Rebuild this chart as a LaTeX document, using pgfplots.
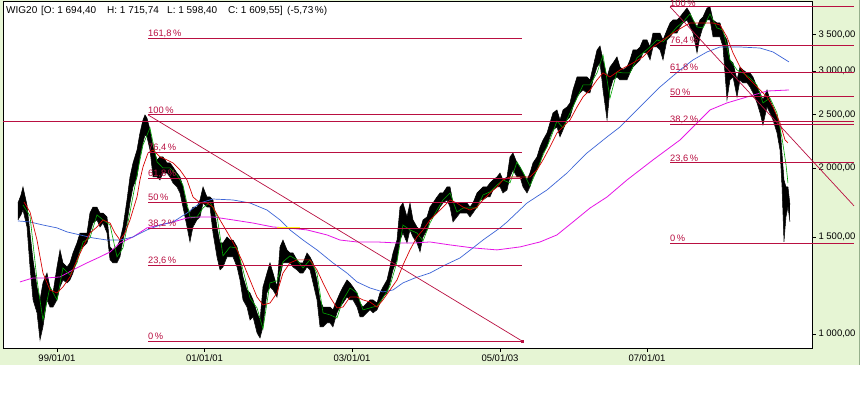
\documentclass[border=0pt]{standalone}
\usepackage{pgfplots}
\pgfplotsset{compat=1.18}
\usepackage{pgfplotstable}
\usepackage{fontspec}
\setmainfont{Liberation Sans}
\definecolor{bggreen}{RGB}{230,245,212}
\definecolor{edgegreen}{RGB}{150,175,140}
\definecolor{fibc}{RGB}{185,15,65}
\definecolor{mared}{RGB}{215,0,0}
\definecolor{mablue}{RGB}{60,100,215}
\definecolor{mamag}{RGB}{230,20,230}
\definecolor{magreen}{RGB}{0,165,0}

\pgfplotstableread{
t hi lo
1998.471 1729 1611
1998.512 1788 1645
1998.539 1849 1679
1998.593 1715 1564
1998.634 1525 1323
1998.675 1363 1153
1998.729 1217 1092
1998.770 1153 975
1998.810 1238 1030
1998.864 1290 1153
1998.905 1217 1119
1998.946 1187 1119
1999.000 1323 1153
1999.041 1421 1217
1999.081 1346 1253
1999.136 1323 1238
1999.176 1346 1253
1999.217 1403 1290
1999.271 1463 1363
1999.312 1525 1421
1999.353 1525 1439
1999.407 1525 1463
1999.447 1658 1525
1999.488 1700 1590
1999.542 1700 1611
1999.583 1658 1564
1999.624 1658 1590
1999.678 1631 1525
1999.719 1439 1363
1999.759 1421 1346
1999.814 1439 1346
1999.854 1481 1380
1999.895 1564 1481
1999.949 1751 1590
1999.990 1928 1729
2000.031 2044 1849
2000.085 2158 1928
2000.125 2317 2096
2000.166 2446 2222
2000.193 2498 2298
2000.220 2467 2279
2000.261 2346 2158
2000.302 2185 1928
2000.356 2070 1928
2000.397 2096 1904
2000.437 2096 1960
2000.492 2044 1960
2000.532 2044 1928
2000.573 2010 1880
2000.627 1960 1849
2000.668 1928 1803
2000.708 1849 1700
2000.763 1700 1564
2000.803 1658 1469
2000.844 1700 1564
2000.898 1700 1611
2000.939 1751 1631
2000.980 1849 1729
2001.034 1773 1700
2001.075 1773 1700
2001.115 1751 1525
2001.169 1564 1380
2001.210 1463 1307
2001.251 1463 1323
2001.305 1500 1380
2001.346 1481 1380
2001.386 1481 1380
2001.441 1439 1323
2001.481 1363 1253
2001.522 1269 1153
2001.576 1202 1119
2001.617 1187 1060
2001.658 1153 1074
2001.712 1092 1004
2001.753 1060 983
2001.793 1217 1030
2001.847 1290 1187
2001.888 1346 1217
2001.929 1290 1202
2001.983 1217 1167
2002.024 1439 1269
2002.064 1481 1346
2002.119 1421 1346
2002.159 1403 1346
2002.200 1403 1323
2002.254 1363 1307
2002.295 1346 1290
2002.336 1346 1290
2002.390 1403 1323
2002.430 1380 1307
2002.471 1346 1238
2002.525 1253 1153
2002.566 1153 1030
2002.607 1119 1030
2002.661 1119 1047
2002.702 1119 1047
2002.742 1106 1030
2002.796 1153 1092
2002.837 1187 1119
2002.878 1217 1138
2002.932 1253 1167
2002.973 1238 1153
2003.013 1217 1153
2003.068 1187 1119
2003.108 1138 1074
2003.149 1119 1074
2003.203 1138 1092
2003.244 1153 1106
2003.285 1153 1092
2003.339 1138 1106
2003.379 1187 1138
2003.420 1217 1167
2003.474 1253 1187
2003.515 1323 1238
2003.556 1403 1307
2003.610 1481 1363
2003.651 1700 1481
2003.691 1729 1525
2003.746 1631 1463
2003.786 1729 1545
2003.827 1611 1500
2003.881 1564 1463
2003.922 1545 1409
2003.963 1611 1500
2004.017 1631 1545
2004.057 1700 1611
2004.098 1729 1631
2004.152 1773 1658
2004.193 1803 1700
2004.234 1803 1729
2004.288 1849 1751
2004.329 1849 1700
2004.369 1729 1597
2004.423 1729 1631
2004.464 1729 1658
2004.505 1729 1658
2004.559 1729 1658
2004.600 1700 1631
2004.640 1729 1658
2004.695 1803 1700
2004.735 1826 1751
2004.776 1849 1751
2004.830 1849 1773
2004.871 1880 1773
2004.912 1904 1826
2004.966 1928 1849
2005.007 1960 1849
2005.047 1904 1803
2005.102 1928 1826
2005.142 2096 1928
2005.183 2131 1985
2005.237 2044 1928
2005.278 2010 1928
2005.318 1960 1849
2005.373 1904 1803
2005.413 1960 1849
2005.454 2044 1928
2005.508 2096 1985
2005.549 2185 2044
2005.590 2250 2131
2005.644 2317 2185
2005.684 2416 2279
2005.725 2519 2346
2005.779 2551 2376
2005.820 2446 2279
2005.861 2551 2346
2005.915 2583 2446
2005.956 2627 2477
2005.996 2773 2583
2006.051 2928 2693
2006.091 2928 2739
2006.132 2928 2773
2006.186 2928 2739
2006.227 2892 2739
2006.268 3053 2892
2006.322 3278 3053
2006.363 3333 3105
2006.403 3144 2773
2006.458 2928 2446
2006.498 3053 2773
2006.539 3105 2892
2006.593 3184 2928
2006.634 3053 2892
2006.674 3015 2892
2006.729 3053 2892
2006.769 3144 2978
2006.810 3278 3053
2006.864 3278 3105
2006.905 3319 3144
2006.945 3418 3237
2007.000 3418 3237
2007.041 3319 3144
2007.081 3519 3319
2007.135 3519 3319
2007.176 3519 3278
2007.217 3418 3144
2007.271 3564 3418
2007.312 3670 3461
2007.352 3716 3519
2007.407 3716 3519
2007.447 3763 3609
2007.488 3826 3670
2007.542 3907 3716
2007.583 3826 3609
2007.623 3716 3519
2007.678 3609 3237
2007.718 3716 3461
2007.759 3763 3609
2007.813 3907 3716
2007.854 3924 3716
2007.895 3716 3461
2007.949 3670 3461
2007.989 3670 3461
2008.030 3519 3319
2008.084 3418 2660
2008.125 3144 2892
2008.166 3105 2928
2008.220 2892 2693
2008.261 3053 2892
2008.301 3015 2856
2008.355 2978 2856
2008.396 2978 2808
2008.437 2928 2739
2008.491 2808 2627
2008.532 2739 2519
2008.572 2660 2396
2008.627 2773 2583
2008.667 2660 2519
2008.708 2583 2446
2008.762 2477 2317
2008.803 2376 2158
2008.830 2131 1849
2008.857 1904 1470
2008.884 1849 1631
2008.911 1849 1700
2008.938 1716 1598
}\candles

\pgfplotstableread{
t v
1998.553 1736
1998.634 1665
1998.729 1481
1998.810 1290
1998.905 1202
1999.000 1187
1999.081 1217
1999.176 1269
1999.271 1363
1999.353 1439
1999.447 1525
1999.542 1564
1999.624 1611
1999.719 1590
1999.786 1525
1999.854 1481
1999.922 1525
1999.990 1611
2000.085 1773
2000.125 1904
2000.166 2010
2000.234 2131
2000.302 2158
2000.397 2096
2000.492 2070
2000.573 2044
2000.668 1985
2000.763 1904
2000.844 1773
2000.939 1729
2001.034 1729
2001.115 1700
2001.210 1611
2001.346 1500
2001.441 1421
2001.522 1346
2001.617 1253
2001.712 1167
2001.793 1129
2001.888 1138
2001.983 1187
2002.064 1290
2002.159 1346
2002.254 1363
2002.336 1363
2002.430 1363
2002.525 1307
2002.607 1238
2002.702 1167
2002.796 1115
2002.878 1119
2002.973 1167
2003.068 1167
2003.149 1153
2003.244 1143
2003.339 1119
2003.420 1153
2003.515 1202
2003.610 1253
2003.691 1334
2003.786 1421
2003.881 1500
2003.963 1545
2004.057 1611
2004.152 1658
2004.234 1700
2004.329 1751
2004.423 1729
2004.505 1700
2004.600 1679
2004.695 1700
2004.776 1751
2004.871 1803
2004.966 1849
2005.047 1904
2005.142 1928
2005.237 1928
2005.318 1928
2005.413 1928
2005.508 1985
2005.590 2070
2005.684 2185
2005.779 2317
2005.861 2376
2005.956 2446
2006.051 2583
2006.132 2693
2006.227 2773
2006.322 2892
2006.403 2978
2006.498 2928
2006.634 3015
2006.810 3105
2006.945 3184
2007.081 3319
2007.217 3418
2007.352 3519
2007.488 3609
2007.583 3670
2007.678 3670
2007.759 3670
2007.895 3670
2007.989 3639
2008.084 3461
2008.166 3237
2008.261 3053
2008.355 2928
2008.437 2856
2008.532 2773
2008.627 2693
2008.708 2583
2008.803 2416
2008.871 2250
2008.911 2222
}\redma

\pgfplotstableread{
t v
1998.471 1604
1998.634 1597
1998.810 1577
1999.000 1558
1999.136 1532
1999.312 1513
1999.488 1494
1999.678 1481
1999.854 1481
2000.031 1500
2000.220 1545
2000.397 1577
2000.573 1597
2000.763 1658
2000.939 1729
2001.115 1758
2001.386 1751
2001.617 1729
2001.847 1679
2002.024 1611
2002.159 1545
2002.336 1481
2002.525 1421
2002.742 1346
2002.932 1290
2003.068 1243
2003.244 1212
2003.420 1192
2003.556 1202
2003.691 1238
2003.854 1264
2004.057 1290
2004.261 1334
2004.464 1374
2004.640 1433
2004.776 1481
2005.007 1558
2005.102 1597
2005.373 1729
2005.644 1826
2005.915 1960
2006.186 2131
2006.458 2279
2006.634 2376
2006.905 2583
2007.176 2808
2007.447 3015
2007.623 3144
2007.813 3251
2007.989 3319
2008.261 3319
2008.532 3305
2008.708 3251
2008.925 3118
}\bluema

\pgfplotstableread{
t v
1998.498 1243
1998.675 1264
1998.864 1264
1999.041 1269
1999.217 1307
1999.407 1346
1999.583 1380
1999.719 1409
1999.854 1463
2000.031 1500
2000.220 1558
2000.397 1577
2000.573 1597
2000.763 1624
2000.939 1631
2001.115 1631
2001.386 1611
2001.658 1590
2001.929 1564
2002.119 1558
2002.390 1545
2002.661 1513
2002.837 1481
2003.068 1469
2003.339 1469
2003.610 1463
2003.854 1463
2004.057 1469
2004.329 1451
2004.640 1433
2004.966 1421
2005.278 1439
2005.549 1469
2005.779 1513
2005.996 1597
2006.227 1693
2006.458 1773
2006.729 1904
2007.081 2070
2007.447 2250
2007.678 2416
2007.854 2551
2008.084 2627
2008.355 2693
2008.627 2761
2008.925 2773
}\magma

\pgfplotstableread{
t v
1998.539 1715
1998.634 1638
1998.729 1253
1998.810 1060
1998.905 1217
1999.000 1153
1999.081 1318
1999.176 1280
1999.271 1346
1999.353 1469
1999.447 1494
1999.542 1645
1999.624 1611
1999.719 1577
1999.814 1380
1999.895 1433
1999.990 1665
2000.085 1944
2000.166 2204
2000.261 2366
2000.356 2053
2000.437 2002
2000.532 2002
2000.627 1944
2000.708 1864
2000.803 1631
2000.898 1631
2000.980 1693
2001.075 1736
2001.169 1638
2001.251 1386
2001.346 1439
2001.441 1433
2001.522 1307
2001.617 1162
2001.712 1115
2001.793 1021
2001.888 1238
2001.983 1248
2002.064 1352
2002.159 1386
2002.254 1363
2002.336 1318
2002.430 1363
2002.525 1290
2002.607 1092
2002.702 1083
2002.796 1069
2002.878 1153
2002.973 1212
2003.068 1187
2003.149 1106
2003.244 1115
2003.339 1124
2003.420 1162
2003.515 1222
2003.610 1352
2003.691 1577
2003.786 1545
2003.881 1525
2003.963 1475
2004.057 1590
2004.152 1679
2004.234 1751
2004.329 1803
2004.423 1665
2004.505 1693
2004.600 1693
2004.695 1693
2004.776 1788
2004.871 1811
2004.966 1864
2005.047 1904
2005.142 1880
2005.237 2053
2005.318 1968
2005.413 1857
2005.508 1985
2005.590 2113
2005.684 2250
2005.779 2436
2005.861 2366
2005.956 2519
2006.051 2682
2006.132 2832
2006.227 2832
2006.322 2978
2006.403 3210
2006.498 2682
2006.593 2990
2006.674 2978
2006.769 2978
2006.864 3171
2006.945 3237
2007.041 3319
2007.135 3418
2007.217 3390
2007.312 3490
2007.407 3609
2007.488 3685
2007.583 3810
2007.678 3609
2007.759 3594
2007.854 3810
2007.949 3594
2008.030 3564
2008.125 3144
2008.220 3015
2008.301 2978
2008.396 2916
2008.491 2832
2008.572 2627
2008.667 2682
2008.762 2519
2008.830 2270
2008.885 2027
2008.911 1880
}\greenma

\begin{document}
\begin{tikzpicture}[x=1pt,y=1pt]
\fill[white] (0,0) rectangle (861,395);
\fill[bggreen] (0,30) rectangle (860,395);
\draw[edgegreen, line width=1.2pt] (859.6,30) -- (859.6,395);
\begin{axis}[
  at={(3pt,47pt)}, anchor=south west,
  width=809pt, height=347pt, scale only axis,
  xmin=1998.268, xmax=2009.237,
  ymode=log, ymin=943.1, ymax=4023,
  clip=false,
  axis background/.style={fill=white},
  axis line style={black, line width=0.8pt},
  xtick={1999,2001,2003,2005.007,2007},
  xticklabels={99/01/01,01/01/01,03/01/01,05/01/03,07/01/01},
  ytick={1000,1500,2000,2500,3000,3500},
  yticklabels={{1 000,00},{1 500,00},{2 000,00},{2 500,00},{3 000,00},{3 500,00}},
  yminorticks=false, xminorticks=false,
  xtick pos=left, ytick pos=right,
  tick align=outside,
  major tick length=4pt,
  tick style={black, line width=0.6pt},
  ticklabel style={font=\fontsize{9.5}{11}\selectfont, text=black},
  yticklabel style={anchor=west, xshift=-1pt},
  xticklabel style={anchor=north, yshift=1pt},
]
% price candles: black from highs down to a floor, then white from lows down (slightly wider) to hide the rest
\addplot[fill=black, draw=none] table[x=t, y=hi]{\candles}
  -- (axis cs:2008.938,960) -- (axis cs:1998.471,960) -- cycle;
\addplot[fill=white, draw=none] table[x=t, y=lo]{\candles}
  -- (axis cs:2008.955,1598) -- (axis cs:2008.955,944) -- (axis cs:1998.454,944) -- (axis cs:1998.454,1611) -- cycle;
\addplot[black, line width=0.5pt] table[x=t, y=hi]{\candles};
\addplot[black, line width=0.5pt] table[x=t, y=lo]{\candles};
% moving averages
\addplot[mamag, line width=0.8pt] table[x=t, y=v]{\magma};
\addplot[mablue, line width=0.7pt] table[x=t, y=v]{\bluema};
\addplot[magreen, line width=0.6pt] table[x=t, y=v]{\greenma};
\addplot[mared, line width=0.7pt] table[x=t, y=v]{\redma};
\addplot[yellow!90!white, line width=1pt] coordinates {(2001.983,1558) (2002.295,1558)};
% left Fibonacci set
\addplot[fibc, line width=1pt] coordinates {(2000.234,3443) (2005.305,3443)};
\addplot[fibc, line width=1pt] coordinates {(2000.234,2499) (2005.305,2499)};
\addplot[fibc, line width=1pt] coordinates {(2000.234,2138) (2005.305,2138)};
\addplot[fibc, line width=1pt] coordinates {(2000.234,1915) (2005.305,1915)};
\addplot[fibc, line width=1pt] coordinates {(2000.234,1735) (2005.305,1735)};
\addplot[fibc, line width=1pt] coordinates {(2000.234,1555) (2005.305,1555)};
\addplot[fibc, line width=1pt] coordinates {(2000.234,1332) (2005.305,1332)};
\addplot[fibc, line width=1pt] coordinates {(2000.234,971) (2005.305,971)};
\addplot[fibc, line width=0.7pt] coordinates {(2000.234,2499) (2005.305,971)};
\addplot[fibc, only marks, mark=square*, mark size=1pt] coordinates {(2005.305,971)};
% full width line
\addplot[fibc, line width=1pt] coordinates {(1998.268,2435) (2009.807,2435)};
% right Fibonacci set
\addplot[fibc, line width=1pt] coordinates {(2007.312,3927) (2009.807,3927)};
\addplot[fibc, line width=1pt] coordinates {(2007.312,3345) (2009.807,3345)};
\addplot[fibc, line width=1pt] coordinates {(2007.312,2985) (2009.807,2985)};
\addplot[fibc, line width=1pt] coordinates {(2007.312,2694) (2009.807,2694)};
\addplot[fibc, line width=1pt] coordinates {(2007.312,2404) (2009.807,2404)};
\addplot[fibc, line width=1pt] coordinates {(2007.312,2044) (2009.807,2044)};
\addplot[fibc, line width=1pt] coordinates {(2007.312,1462) (2009.807,1462)};
\addplot[fibc, line width=0.7pt] coordinates {(2007.312,3927) (2009.807,1708)};
% labels
\tikzset{fl/.style={anchor=base west, inner sep=0pt, yshift=1.6pt, text=fibc, font=\fontsize{9.3}{11}\selectfont}}
\node[fl] at (axis cs:2000.234,3443) {161,8\,\%};
\node[fl] at (axis cs:2000.234,2499) {100\,\%};
\node[fl] at (axis cs:2000.234,2138) {76,4\,\%};
\node[fl] at (axis cs:2000.234,1915) {61,8\,\%};
\node[fl] at (axis cs:2000.234,1735) {50\,\%};
\node[fl] at (axis cs:2000.234,1555) {38,2\,\%};
\node[fl] at (axis cs:2000.234,1332) {23,6\,\%};
\node[fl] at (axis cs:2000.234,971) {0\,\%};
\node[fl, yshift=-1.6pt] at (axis cs:2007.312,3927) {100\,\%};
\node[fl] at (axis cs:2007.312,3345) {76,4\,\%};
\node[fl] at (axis cs:2007.312,2985) {61,8\,\%};
\node[fl] at (axis cs:2007.312,2694) {50\,\%};
\node[fl] at (axis cs:2007.312,2404) {38,2\,\%};
\node[fl] at (axis cs:2007.312,2044) {23,6\,\%};
\node[fl] at (axis cs:2007.312,1462) {0\,\%};
\end{axis}
\tikzset{tt/.style={anchor=base west, inner sep=0pt, font=\fontsize{10}{12}\selectfont}}
\node[tt] at (6,381.7) {WIG20};
\node[tt] at (41,381.7) {[O: 1 694,40};
\node[tt] at (107,381.7) {H: 1 715,74};
\node[tt] at (167,381.7) {L: 1 598,40};
\node[tt] at (228,381.7) {C: 1 609,55]};
\node[tt] at (287,381.7) {(-5,73\,\%)};
\pgfresetboundingbox
\useasboundingbox (0,0) rectangle (861,395);
\end{tikzpicture}
\end{document}
